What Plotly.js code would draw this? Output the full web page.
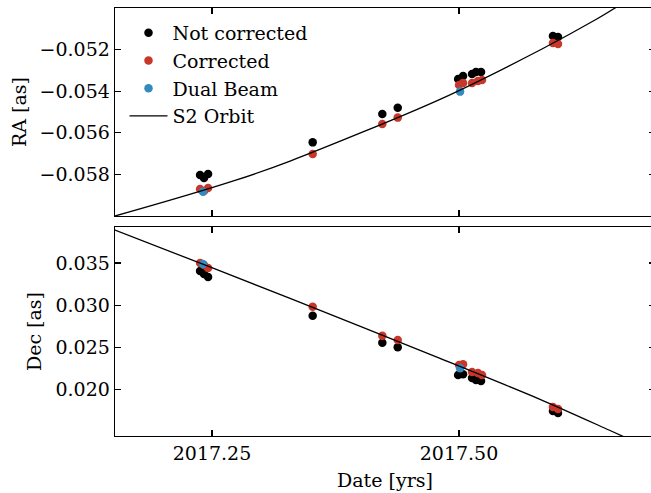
<!DOCTYPE html>
<html><head><meta charset="utf-8">
<script src="https://cdn.plot.ly/plotly-3.0.1.min.js"></script>
<style>html,body{margin:0;padding:0;overflow:hidden;background:#fff}</style>
</head><body><div id="chart"></div>
<script>
// Epochs (years)
const tNotCorr = [2017.2379, 2017.2419, 2017.2460, 2017.3519, 2017.4224, 2017.4380, 2017.4991, 2017.5041, 2017.5132, 2017.5172, 2017.5223, 2017.5951, 2017.6002];
const raNotCorr = [-0.05803, -0.05817, -0.05798, -0.05646, -0.05510, -0.05479, -0.05341, -0.05327, -0.05317, -0.05308, -0.05308, -0.05135, -0.05139];
const decNotCorr = [0.03405, 0.03370, 0.03334, 0.02875, 0.02555, 0.02500, 0.02171, 0.02180, 0.02136, 0.02112, 0.02100, 0.01744, 0.01720];

const tCorr = [2017.2379, 2017.2419, 2017.2460, 2017.3519, 2017.4224, 2017.4380, 2017.5001, 2017.5041, 2017.5132, 2017.5192, 2017.5233, 2017.5951, 2017.6002];
const raCorr = [-0.05870, -0.05880, -0.05865, -0.05702, -0.05558, -0.05527, -0.05370, -0.05360, -0.05361, -0.05351, -0.05346, -0.05168, -0.05173];
const decCorr = [0.03500, 0.03476, 0.03441, 0.02982, 0.02638, 0.02587, 0.02290, 0.02300, 0.02207, 0.02195, 0.02171, 0.01792, 0.01768];

const tDual = [2017.2409, 2017.5011];
const raDual = [-0.05883, -0.05402];
const decDual = [0.03488, 0.02251];

// S2 orbit model
const tOrbitRA = [2017.140, 2017.1518, 2017.2733, 2017.329, 2017.4808, 2017.584, 2017.6377, 2017.658, 2017.710];
const raOrbit = [-0.06015, -0.06000, -0.05829, -0.05736, -0.05439, -0.05197, -0.05058, -0.05000, -0.04842];
const tOrbitDec = [2017.140, 2017.1518, 2017.329, 2017.4808, 2017.582, 2017.6518, 2017.710];
const decOrbit = [0.03945, 0.03891, 0.03081, 0.02369, 0.01883, 0.01519, 0.01210];

const xTicks = [2017.25, 2017.50];
const xTickText = ['2017.25', '2017.50'];
const raTicks = [-0.052, -0.054, -0.056, -0.058];
const raTickText = ['\u22120.052', '\u22120.054', '\u22120.056', '\u22120.058'];
const decTicks = [0.020, 0.025, 0.030, 0.035];
const decTickText = ['0.020', '0.025', '0.030', '0.035'];

const BLACK = '#000000', RED = '#C8372A', BLUE = '#348ABD';
const FONT = 'DejaVu Serif';
const MS = 8.5;

function mk(x, y, color, name, xa, ya, show) {
  return {x: x, y: y, type: 'scatter', mode: 'markers', name: name,
    marker: {color: color, size: MS, line: {width: 0}},
    xaxis: xa, yaxis: ya, showlegend: show, legendgroup: name};
}
function ln(x, y, xa, ya, show) {
  return {x: x, y: y, type: 'scatter', mode: 'lines', name: 'S2 Orbit',
    line: {color: '#000', width: 1.3, shape: 'spline', smoothing: 0.8},
    xaxis: xa, yaxis: ya, showlegend: show, legendgroup: 'orbit'};
}

const data = [
  mk(tNotCorr, raNotCorr, BLACK, 'Not corrected', 'x', 'y', true),
  mk(tCorr, raCorr, RED, 'Corrected', 'x', 'y', true),
  mk(tDual, raDual, BLUE, 'Dual Beam', 'x', 'y', true),
  ln(tOrbitRA, raOrbit, 'x', 'y', true),
  mk(tNotCorr, decNotCorr, BLACK, 'Not corrected', 'x2', 'y2', false),
  mk(tCorr, decCorr, RED, 'Corrected', 'x2', 'y2', false),
  mk(tDual, decDual, BLUE, 'Dual Beam', 'x2', 'y2', false),
  ln(tOrbitDec, decOrbit, 'x2', 'y2', false)
];

const xRange = [2017.1518, 2017.6984];
const axCommon = {showline: true, linecolor: '#000', linewidth: 1.3, mirror: 'allticks',
  ticks: 'inside', ticklen: 6, tickwidth: 1.2, tickcolor: '#000', showgrid: false, zeroline: false,
  tickfont: {family: FONT, size: 19, color: '#000'}};

const layout = {
  width: 655, height: 493,
  margin: {l: 115, r: 0, t: 8, b: 57},
  paper_bgcolor: '#fff', plot_bgcolor: '#fff',
  font: {family: FONT, size: 19, color: '#000'},
  showlegend: true,
  legend: {x: 0.0176, y: 0.986, xanchor: 'left', yanchor: 'top', bgcolor: 'rgba(0,0,0,0)',
    font: {family: FONT, size: 19}, tracegroupgap: 0, itemwidth: 38},
  xaxis: Object.assign({}, axCommon, {anchor: 'y', range: xRange, tickvals: xTicks, ticktext: xTickText, showticklabels: false}),
  yaxis: Object.assign({}, axCommon, {domain: [0.514, 1], range: [-0.0600, -0.0500], tickvals: raTicks, ticktext: raTickText,
    title: {text: 'RA [as]', font: {family: FONT, size: 19}, standoff: 8}}),
  xaxis2: Object.assign({}, axCommon, {anchor: 'y2', range: xRange, tickvals: xTicks, ticktext: xTickText,
    title: {text: 'Date [yrs]', font: {family: FONT, size: 19}, standoff: 10}}),
  yaxis2: Object.assign({}, axCommon, {domain: [0, 0.4883], range: [0.01448, 0.03927], tickvals: decTicks, ticktext: decTickText,
    title: {text: 'Dec [as]', font: {family: FONT, size: 19}, standoff: 8}})
};

Plotly.newPlot('chart', data, layout, {displayModeBar: false, staticPlot: true});
</script></body></html>
